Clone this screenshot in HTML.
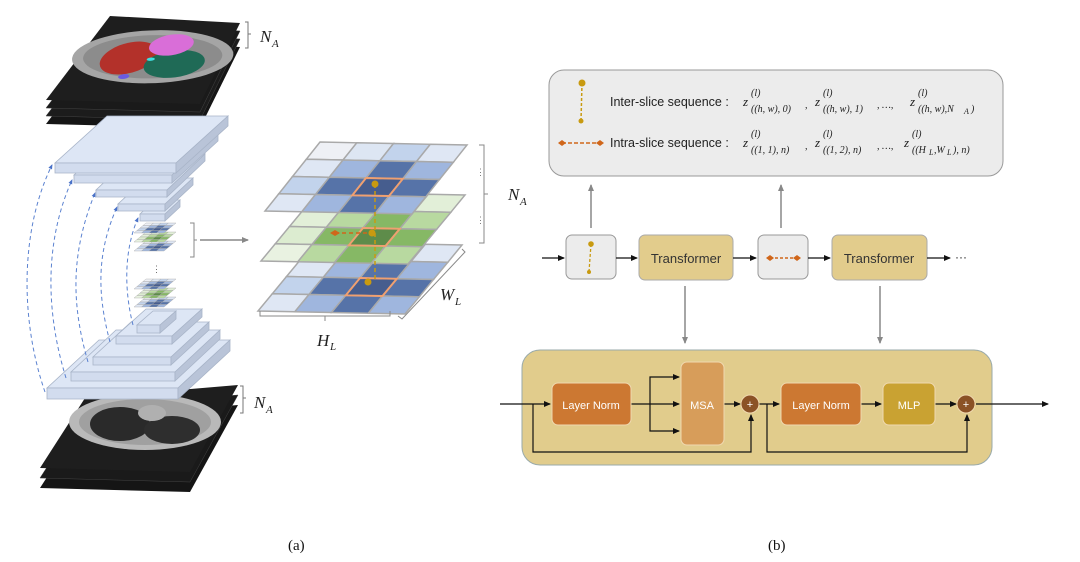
<!DOCTYPE html>
<html><head><meta charset="utf-8">
<style>
html,body{margin:0;padding:0;background:#fff;}
svg{display:block;}
.t{font-family:"Liberation Sans",sans-serif;}
.m{font-family:"Liberation Serif",serif;font-style:italic;}
</style></head>
<body>
<svg id="s" width="1080" height="562" viewBox="0 0 1080 562" xmlns="http://www.w3.org/2000/svg">
<defs>
<marker id="ab" markerWidth="8" markerHeight="8" refX="6" refY="3" orient="auto" markerUnits="userSpaceOnUse"><path d="M0,0 L7,3 L0,6z" fill="#111"/></marker>
<marker id="ag" markerWidth="8" markerHeight="8" refX="6" refY="3" orient="auto" markerUnits="userSpaceOnUse"><path d="M0,0 L7,3 L0,6z" fill="#888"/></marker>
<marker id="abl" markerWidth="6" markerHeight="6" refX="4" refY="2" orient="auto" markerUnits="userSpaceOnUse"><path d="M0,0 L5,2 L0,4z" fill="#4a72c8"/></marker>
</defs>

<g>
<polygon points="110,40 240,47 200,128 46,124" fill="#151515"/>
<polygon points="110,32 240,39 200,120 46,116" fill="#1c1c1c" stroke="#444" stroke-width="0.5"/>
<polygon points="110,24 240,31 200,112 46,108" fill="#1a1a1a" stroke="#444" stroke-width="0.5"/>
<polygon points="110,16 240,23 200,104 46,100" fill="#1e1e1e"/>
<g transform="matrix(1.3,0.07,-0.64,0.82,110,16)">
<ellipse cx="55" cy="45" rx="60" ry="32" fill="#a5a5a5"/>
<ellipse cx="55" cy="45" rx="52" ry="26" fill="#8c8c8c"/>
<ellipse cx="38" cy="48" rx="20" ry="20" fill="#b3312a"/>
<ellipse cx="75" cy="52" rx="22" ry="17" fill="#1f6a56"/>
<ellipse cx="62" cy="30" rx="16" ry="13" fill="#d96ed8"/>
<ellipse cx="45" cy="70" rx="4" ry="3" fill="#6a5be0"/>
<ellipse cx="55" cy="48" rx="3" ry="2" fill="#3ee0e0"/>
</g>
</g>
<path d="M245,22 h3 v12 h3 h-3 v14 h-3" fill="none" stroke="#777" stroke-width="1"/>
<text x="260" y="42" class="m" font-size="17" fill="#222">N</text><text x="272" y="47" class="m" font-size="11" fill="#222">A</text>

<g>
<polygon points="85,418 238,405 190,492 40,488" fill="#151515"/>
<polygon points="85,408 238,395 190,482 40,478" fill="#1a1a1a" stroke="#444" stroke-width="0.5"/>
<polygon points="85,398 238,385 190,472 40,468" fill="#1e1e1e"/>
<ellipse cx="145" cy="422" rx="76" ry="28" fill="#b9b9b9"/>
<ellipse cx="145" cy="422" rx="66" ry="23" fill="#a0a0a0"/>
<ellipse cx="120" cy="424" rx="30" ry="17" fill="#2a2a2a"/>
<ellipse cx="172" cy="430" rx="28" ry="14" fill="#2e2e2e"/>
<ellipse cx="152" cy="413" rx="14" ry="8" fill="#b0b0b0"/>
</g>
<path d="M240,386 h3 v12 h3 h-3 v15 h-3" fill="none" stroke="#777" stroke-width="1"/>
<text x="254" y="408" class="m" font-size="17" fill="#222">N</text><text x="266" y="413" class="m" font-size="11" fill="#222">A</text>

<g id="slabs"></g>
<g id="arcs" fill="none" stroke="#5b82d0" stroke-width="1" stroke-dasharray="4,3">
<path d="M45,392 C20,320 20,230 52,165" marker-end="url(#abl)"/>
<path d="M66,378 C45,310 45,240 72,180" marker-end="url(#abl)"/>
<path d="M88,362 C70,300 72,250 95,193" marker-end="url(#abl)"/>
<path d="M110,342 C96,290 98,250 117,207" marker-end="url(#abl)"/>
<path d="M133,325 C124,290 124,250 138,218" marker-end="url(#abl)"/>
</g>
<text x="152" y="272" class="t" font-size="9" fill="#666">⋮</text>

<path d="M190,223 h4 v17 h3 h-3 v17 h-4" fill="none" stroke="#888" stroke-width="1"/>
<line x1="200" y1="240" x2="248" y2="240" stroke="#888" stroke-width="1.5" marker-end="url(#ag)"/>

<g id="big"></g>
<line x1="375" y1="184" x2="375" y2="282" stroke="#c89a10" stroke-width="1.5" stroke-dasharray="4,3"/>
<circle cx="375" cy="184" r="3.5" fill="#c89a10"/><circle cx="372" cy="233" r="3.5" fill="#c89a10"/><circle cx="368" cy="282" r="3.5" fill="#c89a10"/>
<line x1="335" y1="233" x2="368" y2="233" stroke="#d0661a" stroke-width="1.5" stroke-dasharray="4,3"/>
<polygon points="330,233 335,230 340,233 335,236" fill="#d0661a"/>
<text x="476" y="175" class="t" font-size="9" fill="#777">⋮</text>
<text x="476" y="223" class="t" font-size="9" fill="#777">⋮</text>
<path d="M479,145 h5 v98 h-5 M484,194 h4" fill="none" stroke="#888" stroke-width="1"/>
<text x="508" y="200" class="m" font-size="17" fill="#222">N</text><text x="520" y="205" class="m" font-size="11" fill="#222">A</text>
<path d="M260,311 v5 h130 v-5 M325,316 v5" fill="none" stroke="#888" stroke-width="1"/>
<path d="M398,316 l4,3 l63,-67 l-3,-3" fill="none" stroke="#888" stroke-width="1"/>
<text x="317" y="346" class="m" font-size="17" fill="#222">H</text><text x="330" y="350" class="m" font-size="11" fill="#222">L</text>
<text x="440" y="300" class="m" font-size="17" fill="#222">W</text><text x="455" y="305" class="m" font-size="11" fill="#222">L</text>

<text x="288" y="550" style="font-family:'Liberation Serif',serif" font-size="15" fill="#111">(a)</text>
<text x="768" y="550" style="font-family:'Liberation Serif',serif" font-size="15" fill="#111">(b)</text>

<rect x="549" y="70" width="454" height="106" rx="15" fill="#ececec" stroke="#999" stroke-width="1"/>
<line x1="582" y1="83" x2="581" y2="121" stroke="#c89a10" stroke-width="1.5" stroke-dasharray="3,2"/>
<circle cx="582" cy="83" r="3.5" fill="#c89a10"/><circle cx="581" cy="121" r="2.5" fill="#c89a10"/>
<line x1="562" y1="143" x2="600" y2="143" stroke="#d0661a" stroke-width="1.5" stroke-dasharray="4,2"/>
<polygon points="558,143 562,140 566,143 562,146" fill="#d0661a"/><polygon points="596,143 600,140 604,143 600,146" fill="#d0661a"/>
<text x="610" y="106" class="t" font-size="12.5" fill="#222">Inter-slice sequence :</text>
<text x="610" y="147" class="t" font-size="12.5" fill="#222">Intra-slice sequence :</text>
<g class="m" fill="#222" font-size="13">
<text x="743" y="106">z</text><text x="751" y="96" font-size="10">(l)</text><text x="751" y="112" font-size="10">((h, w), 0)</text><text x="805" y="108" font-size="10">,</text>
<text x="815" y="106">z</text><text x="823" y="96" font-size="10">(l)</text><text x="823" y="112" font-size="10">((h, w), 1)</text><text x="877" y="108" font-size="10">, …,</text>
<text x="910" y="106">z</text><text x="918" y="96" font-size="10">(l)</text><text x="918" y="112" font-size="10">((h, w),N</text><text x="964" y="114" font-size="8">A</text><text x="971" y="112" font-size="10">)</text>
<text x="743" y="147">z</text><text x="751" y="137" font-size="10">(l)</text><text x="751" y="153" font-size="10">((1, 1), n)</text><text x="805" y="149" font-size="10">,</text>
<text x="815" y="147">z</text><text x="823" y="137" font-size="10">(l)</text><text x="823" y="153" font-size="10">((1, 2), n)</text><text x="877" y="149" font-size="10">, …,</text>
<text x="904" y="147">z</text><text x="912" y="137" font-size="10">(l)</text><text x="912" y="153" font-size="10">((H</text><text x="929" y="155" font-size="8">L</text><text x="934" y="153" font-size="10">,W</text><text x="947" y="155" font-size="8">L</text><text x="953" y="153" font-size="10">), n)</text>
</g>

<line x1="591" y1="228" x2="591" y2="185" stroke="#888" stroke-width="1.5" marker-end="url(#ag)"/>
<line x1="781" y1="228" x2="781" y2="185" stroke="#888" stroke-width="1.5" marker-end="url(#ag)"/>

<line x1="542" y1="258" x2="564" y2="258" stroke="#111" stroke-width="1.2" marker-end="url(#ab)"/>
<rect x="566" y="235" width="50" height="44" rx="6" fill="#ececec" stroke="#999"/>
<line x1="591" y1="244" x2="589" y2="272" stroke="#c89a10" stroke-width="1.3" stroke-dasharray="3,2"/>
<circle cx="591" cy="244" r="2.8" fill="#c89a10"/><circle cx="589" cy="272" r="2" fill="#c89a10"/>
<line x1="616" y1="258" x2="637" y2="258" stroke="#111" stroke-width="1.2" marker-end="url(#ab)"/>
<rect x="639" y="235" width="94" height="45" rx="6" fill="#e2cc8c" stroke="#aaa"/>
<text x="686" y="263" class="t" font-size="13" fill="#333" text-anchor="middle">Transformer</text>
<line x1="733" y1="258" x2="756" y2="258" stroke="#111" stroke-width="1.2" marker-end="url(#ab)"/>
<rect x="758" y="235" width="50" height="44" rx="6" fill="#ececec" stroke="#999"/>
<line x1="770" y1="258" x2="797" y2="258" stroke="#d0661a" stroke-width="1.5" stroke-dasharray="3,2"/>
<polygon points="766,258 770,255 774,258 770,261" fill="#d0661a"/><polygon points="793,258 797,255 801,258 797,261" fill="#d0661a"/>
<line x1="808" y1="258" x2="830" y2="258" stroke="#111" stroke-width="1.2" marker-end="url(#ab)"/>
<rect x="832" y="235" width="95" height="45" rx="6" fill="#e2cc8c" stroke="#aaa"/>
<text x="879" y="263" class="t" font-size="13" fill="#333" text-anchor="middle">Transformer</text>
<line x1="927" y1="258" x2="950" y2="258" stroke="#111" stroke-width="1.2" marker-end="url(#ab)"/>
<text x="955" y="261" class="t" font-size="12" fill="#222">···</text>

<line x1="685" y1="286" x2="685" y2="343" stroke="#888" stroke-width="1.5" marker-end="url(#ag)"/>
<line x1="880" y1="286" x2="880" y2="343" stroke="#888" stroke-width="1.5" marker-end="url(#ag)"/>

<rect x="522" y="350" width="470" height="115" rx="18" fill="#e1cc8c" stroke="#9aa" stroke-width="1"/>
<g stroke="#111" stroke-width="1.2" fill="none">
<line x1="500" y1="404" x2="550" y2="404" marker-end="url(#ab)"/>
<polyline points="533,404 533,452 751,452 751,415" marker-end="url(#ab)"/>
<line x1="631" y1="404" x2="679" y2="404" marker-end="url(#ab)"/>
<polyline points="650,404 650,377 679,377" marker-end="url(#ab)"/>
<polyline points="650,404 650,431 679,431" marker-end="url(#ab)"/>
<line x1="724" y1="404" x2="740" y2="404" marker-end="url(#ab)"/>
<line x1="759" y1="404" x2="779" y2="404" marker-end="url(#ab)"/>
<polyline points="767,404 767,452 967,452 967,415" marker-end="url(#ab)"/>
<line x1="861" y1="404" x2="881" y2="404" marker-end="url(#ab)"/>
<line x1="935" y1="404" x2="956" y2="404" marker-end="url(#ab)"/>
<line x1="976" y1="404" x2="1048" y2="404" marker-end="url(#ab)"/>
</g>
<rect x="552" y="383" width="79" height="42" rx="6" fill="#cc7832" stroke="#f0d9b0"/>
<text x="591" y="409" class="t" font-size="11" fill="#fff" text-anchor="middle">Layer Norm</text>
<rect x="681" y="362" width="43" height="83" rx="6" fill="#d79d5a" stroke="#f0d9b0"/>
<text x="702" y="409" class="t" font-size="11" fill="#fff" text-anchor="middle">MSA</text>
<circle cx="750" cy="404" r="9" fill="#8b5226" stroke="#f0d9b0"/>
<text x="750" y="408" class="t" font-size="11" fill="#fff" text-anchor="middle">+</text>
<rect x="781" y="383" width="80" height="42" rx="6" fill="#cc7832" stroke="#f0d9b0"/>
<text x="821" y="409" class="t" font-size="11" fill="#fff" text-anchor="middle">Layer Norm</text>
<rect x="883" y="383" width="52" height="42" rx="6" fill="#c9a232" stroke="#f0d9b0"/>
<text x="909" y="409" class="t" font-size="11" fill="#fff" text-anchor="middle">MLP</text>
<circle cx="966" cy="404" r="9" fill="#8b5226" stroke="#f0d9b0"/>
<text x="966" y="408" class="t" font-size="11" fill="#fff" text-anchor="middle">+</text>
</svg>
<script>
var NS="http://www.w3.org/2000/svg";
function poly(g,pts,fill,stroke,sw){var p=document.createElementNS(NS,"polygon");p.setAttribute("points",pts.map(function(a){return a[0].toFixed(1)+","+a[1].toFixed(1)}).join(" "));p.setAttribute("fill",fill);if(stroke){p.setAttribute("stroke",stroke);p.setAttribute("stroke-width",sw||1);}g.appendChild(p);}
function slab(g,fx,fy,w,t,dx,dy){
 poly(g,[[fx,fy],[fx+w,fy],[fx+w+dx,fy+dy],[fx+dx,fy+dy]],"#dde6f5","#a8b4c8",0.8);
 poly(g,[[fx,fy],[fx+w,fy],[fx+w,fy+t],[fx,fy+t]],"#d2dcee","#a8b4c8",0.8);
 poly(g,[[fx+w,fy],[fx+w+dx,fy+dy],[fx+w+dx,fy+dy+t],[fx+w,fy+t]],"#b9c4d8","#a8b4c8",0.8);
}
var S=document.getElementById("slabs");
slab(S,140,214,25,7,15,-14);
slab(S,118,204,47,7,28,-26);
slab(S,96,190,71,7,38,-36);
slab(S,74,175,98,8,46,-42);
slab(S,55,163,121,10,52,-47);
slab(S,47,388,131,11,52,-48);
slab(S,71,372,104,9,45,-42);
slab(S,93,357,78,8,38,-35);
slab(S,116,336,56,8,30,-27);
slab(S,137,325,23,8,16,-14);
var blue=[["#eef0f5","#dde6f3","#c2d3ec","#dfe7f4"],["#dfe7f4","#9fb6de","#5673a8","#9fb6de"],["#c2d3ec","#5673a8","#465d8e","#5673a8"],["#dfe7f4","#9fb6de","#5673a8","#9fb6de"]];
var green=[["#eef5ea","#dcecd0","#b8d9a0","#e2efd8"],["#e2efd8","#b8d9a0","#86b865","#b8d9a0"],["#dcecd0","#86b865","#5e8c4a","#86b865"],["#e9f2e1","#b8d9a0","#86b865","#b8d9a0"]];
function grid(g,B,R,F,col,hl,sw){
 function P(u,v){return [B[0]+u*(R[0]-B[0])+v*(F[0]-B[0]),B[1]+u*(R[1]-B[1])+v*(F[1]-B[1])];}
 for(var r=0;r<4;r++)for(var c=0;c<4;c++){poly(g,[P(c/4,r/4),P((c+1)/4,r/4),P((c+1)/4,(r+1)/4),P(c/4,(r+1)/4)],col[r][c],"#a9a9a9",sw);}
 if(hl){poly(g,[P(2/4,2/4),P(3/4,2/4),P(3/4,3/4),P(2/4,3/4)],"none","#f0a070",sw*1.3);}
}
var G=document.getElementById("big");
grid(G,[315,242],[462,245],[258,311],blue,1,1.5);
grid(G,[318,192],[465,195],[261,261],green,1,1.5);
grid(G,[320,142],[467,145],[265,211],blue,1,1.5);
function tiny(y0){grid(S,[146,y0+14],[176,y0+14],[134,y0+24],blue,0,0.4);grid(S,[146,y0+5],[176,y0+5],[134,y0+15],green,0,0.4);grid(S,[146,y0-4],[176,y0-4],[134,y0+6],blue,0,0.4);}
tiny(227);tiny(283);
</script>
</body></html>
